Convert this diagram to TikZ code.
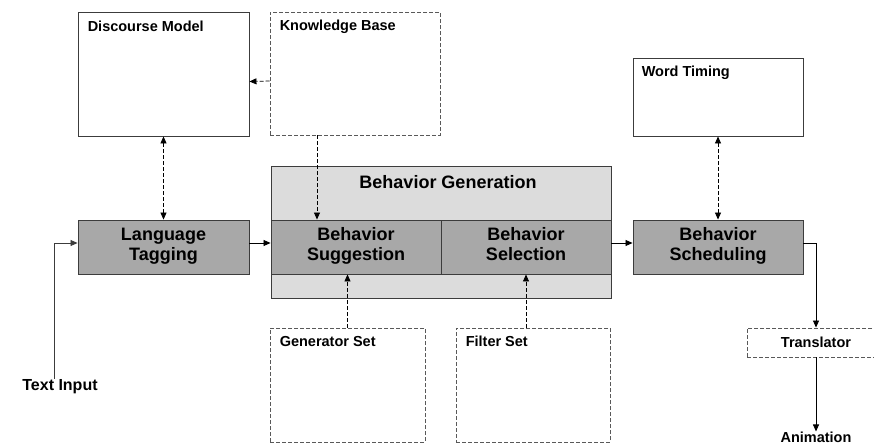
\documentclass[tikz,border=0pt]{standalone}
\usepackage{fontspec}
\setmainfont{Liberation Sans}
\usepackage{xcolor}
\usepackage{tikz}
\usetikzlibrary{arrows.meta,positioning,calc}

\definecolor{procgray}{RGB}{168,168,168}
\definecolor{gengray}{RGB}{220,220,220}
\definecolor{edgegray}{RGB}{60,60,60}

\begin{document}
\begin{tikzpicture}[x=1pt, y=-1pt,
store/.style={rectangle, draw=edgegray, line width=0.9pt, inner sep=0pt},
dstore/.style={store, draw=black!65, dash pattern=on 4pt off 2pt},
proc/.style={rectangle, draw=edgegray, line width=0.9pt, fill=procgray, inner sep=0pt, minimum height=54pt, align=center, font=\fontsize{18}{20}\selectfont\bfseries, execute at begin node={\rule{0pt}{18.8pt}}, execute at end node=\strut},
lbl/.style={inner sep=0pt, font=\fontsize{14.5}{16}\selectfont\bfseries},
arrow/.style={-{Triangle[length=7pt,width=6pt]}, line width=0.8pt},
darrow/.style={arrow, dash pattern=on 4pt off 2pt},
dboth/.style={{Triangle[length=7pt,width=6pt]}-{Triangle[length=7pt,width=6pt]}, line width=0.8pt, dash pattern=on 4pt off 2pt}
]
\useasboundingbox (0,0) rectangle (874,447);

% Top row
\node[store, minimum width=171pt, minimum height=124pt] (dm) at (163.5,74) {};
\node[dstore, minimum width=170pt, minimum height=123pt] (kb) at (355,73.5) {};
\node[store, minimum width=170pt, minimum height=78pt] (wt) at (718,97) {};
\node[lbl, anchor=west] at ([shift={(10pt,-15pt)}]dm.north west) {Discourse Model};
\node[lbl, anchor=west] at ([shift={(10pt,-15pt)}]kb.north west) {Knowledge Base};
\node[lbl, anchor=west] at ([shift={(9pt,-15pt)}]wt.north west) {Word Timing};

% Middle row
\node[rectangle, draw=edgegray, line width=0.9pt, fill=gengray, minimum width=340pt, minimum height=132pt] (gen) at (441,232) {};
\node[font=\fontsize{18}{20}\selectfont\bfseries, inner sep=0pt] (genlbl) at (448,182) {Behavior Generation};
\node[proc, minimum width=171pt] (lt) at (163.5,247) {Language\\Tagging};
\node[proc, minimum width=170pt] (sugg) at (356,247) {Behavior\\Suggestion};
\node[proc, minimum width=170pt] (sel) at (526,247) {Behavior\\Selection};
\node[proc, minimum width=170pt] (sched) at (718,247) {Behavior\\Scheduling};

% Bottom row
\node[dstore, minimum width=155pt, minimum height=114pt] (gs) at (347.5,385) {};
\node[dstore, minimum width=154pt, minimum height=114pt] (fs) at (533,385) {};
\node[lbl, anchor=west] at ([shift={(10pt,-14pt)}]gs.north west) {Generator Set};
\node[lbl, anchor=west] at ([shift={(10pt,-14pt)}]fs.north west) {Filter Set};
\node[dstore, minimum width=138pt, minimum height=29pt, font=\fontsize{14.5}{16}\selectfont\bfseries] (tr) at (816,342.5) {Translator};
\node[inner sep=1pt, font=\fontsize{16}{18}\selectfont\bfseries] (textin) at (60,387) {Text Input};
\node[lbl] (anim) at (816,437) {Animation};

% Arrows
\draw[arrow, edgegray] ([xshift=-6pt]textin.north) |- ([yshift=4pt]lt.west);
\draw[arrow] ([yshift=4pt]lt.east) -- ([yshift=4pt]sugg.west);
\draw[arrow] ([yshift=4pt]sel.east) -- ([yshift=4pt]sched.west);
\draw[arrow] ([yshift=4pt]sched.east) -| (tr.north);
\draw[arrow] (tr.south) -- (anim.north);
\draw[darrow] ([yshift=-7.5pt]kb.west) -- ([yshift=-7.5pt]dm.east);
\draw[darrow] ([xshift=-38pt]kb.south) -- ([xshift=-39pt]sugg.north);
\draw[darrow] (gs.north) -- (gs.north |- sugg.south);
\draw[darrow] (fs.north -| sel.south) -- (sel.south);
\draw[dboth] (dm.south) -- (lt.north);
\draw[dboth] (wt.south) -- (sched.north);

\end{tikzpicture}
\end{document}
